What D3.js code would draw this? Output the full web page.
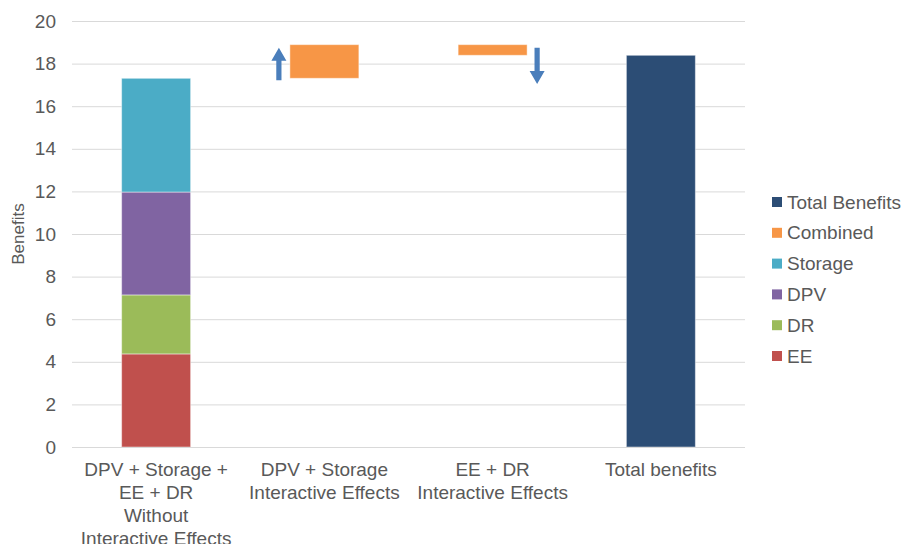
<!DOCTYPE html>
<html>
<head>
<meta charset="utf-8">
<script src="https://cdn.jsdelivr.net/npm/d3@7"></script>
<style>
  body { margin: 0; background: #fff; }
  svg { display: block; font-family: "Liberation Sans", Arial, sans-serif; }
</style>
</head>
<body>
<svg id="chart" width="920" height="544"></svg>
<script>
// Category labels (one array of lines per column)
const categories = ["base", "dpvStorage", "eeDr", "total"];
const categoryLabels = [
  ["DPV + Storage +", "EE + DR", "Without", "Interactive Effects"],
  ["DPV + Storage", "Interactive Effects"],
  ["EE + DR", "Interactive Effects"],
  ["Total benefits"]
];

// Stacked components of the first column
const stackKeys = ["EE", "DR", "DPV", "Storage"];
const stackValues = [4.37, 2.77, 4.83, 5.34];

// Interactive effects (waterfall steps)
const interactiveEffects = [1.58, -0.50];

// Axis ticks
const yTicks = [0, 2, 4, 6, 8, 10, 12, 14, 16, 18, 20];

// Legend entries, top to bottom
const legendKeys = ["Total Benefits", "Combined", "Storage", "DPV", "DR", "EE"];

const colors = {
  "Total Benefits": "#2c4d75",
  "Combined": "#f79646",
  "Storage": "#4bacc6",
  "DPV": "#8064a2",
  "DR": "#9bbb59",
  "EE": "#c0504d"
};
const arrowColor = "#4a7ebb";
const textColor = "#595959";
const fontSize = 19;

const svg = d3.select("#chart");
const plot = { left: 72, right: 745, top: 21, bottom: 447 };

const x = d3.scaleBand().domain(categories).range([plot.left, plot.right]).padding(0);
const y = d3.scaleLinear().domain([0, 20]).range([plot.bottom, plot.top]);
const barW = x.bandwidth() * 0.41;
const barX = c => x(c) + (x.bandwidth() - barW) / 2;

// Gridlines
svg.append("g").selectAll("line").data(yTicks).join("line")
  .attr("x1", plot.left).attr("x2", plot.right)
  .attr("y1", d => y(d) + 0.5).attr("y2", d => y(d) + 0.5)
  .attr("stroke", "#d9d9d9").attr("stroke-width", 1);

// Y axis tick labels
const yAxis = d3.axisLeft(y).tickValues(yTicks).tickSize(0).tickPadding(0);
const gy = svg.append("g").attr("transform", `translate(56,0)`).call(yAxis);
gy.select(".domain").remove();
gy.selectAll("text").attr("font-size", fontSize).attr("fill", textColor)
  .attr("font-family", "Liberation Sans, Arial, sans-serif");

// Y axis title
svg.append("text")
  .attr("transform", `translate(24,${(plot.top + plot.bottom) / 2}) rotate(-90)`)
  .attr("text-anchor", "middle")
  .attr("font-size", 17).attr("fill", textColor)
  .text("Benefits");

// Stacked first column
let cum = 0;
const stackData = stackKeys.map((k, i) => {
  const d = { key: k, y0: cum, y1: cum + stackValues[i] };
  cum += stackValues[i];
  return d;
});
const baseTotal = cum;

svg.append("g").selectAll("rect").data(stackData).join("rect")
  .attr("x", barX("base")).attr("width", barW)
  .attr("y", d => y(d.y1)).attr("height", d => y(d.y0) - y(d.y1))
  .attr("fill", d => colors[d.key])
  .attr("stroke", "rgba(255,255,255,0.45)").attr("stroke-width", 1);

// Waterfall steps
let running = baseTotal;
const steps = interactiveEffects.map((v, i) => {
  const d = { cat: categories[i + 1], from: running, to: running + v, v };
  running += v;
  return d;
});
const grandTotal = running;

svg.append("g").selectAll("rect").data(steps).join("rect")
  .attr("x", d => barX(d.cat)).attr("width", barW)
  .attr("y", d => y(Math.max(d.from, d.to)))
  .attr("height", d => Math.abs(y(d.from) - y(d.to)))
  .attr("fill", colors["Combined"])
  .attr("stroke", "rgba(255,255,255,0.45)").attr("stroke-width", 1);

// Direction arrows beside each step
const arrowG = svg.append("g");
steps.forEach(d => {
  const up = d.v > 0;
  const ax = up ? barX(d.cat) - 11 : barX(d.cat) + barW + 10;
  const hi = Math.max(d.from, d.to), lo = Math.min(d.from, d.to);
  let tipY, tailY;
  if (up) { tipY = y(hi) + 3; tailY = y(lo) + 2; }
  else { tipY = y(lo - 1.35); tailY = y(hi) + 3; }
  const dir = up ? 1 : -1;
  const headH = 13, headW = 7.5, shaft = 2.6;
  const headBase = tipY + dir * headH;
  const pts = [
    [ax, tipY],
    [ax + headW, headBase],
    [ax + shaft, headBase],
    [ax + shaft, tailY],
    [ax - shaft, tailY],
    [ax - shaft, headBase],
    [ax - headW, headBase]
  ];
  arrowG.append("path")
    .attr("d", "M" + pts.map(p => p.join(",")).join("L") + "Z")
    .attr("fill", arrowColor);
});

// Total column
svg.append("rect")
  .attr("x", barX("total")).attr("width", barW)
  .attr("y", y(grandTotal)).attr("height", y(0) - y(grandTotal))
  .attr("fill", colors["Total Benefits"])
  .attr("stroke", "rgba(255,255,255,0.45)").attr("stroke-width", 1);

// Baseline
svg.append("line")
  .attr("x1", plot.left).attr("x2", plot.right)
  .attr("y1", y(0) + 0.5).attr("y2", y(0) + 0.5)
  .attr("stroke", "#d9d9d9").attr("stroke-width", 1);

// X axis category labels
const xl = svg.append("g").selectAll("text").data(categories).join("text")
  .attr("x", c => x(c) + x.bandwidth() / 2)
  .attr("y", 476)
  .attr("text-anchor", "middle")
  .attr("font-size", fontSize).attr("fill", textColor);
xl.each(function(c, i) {
  d3.select(this).selectAll("tspan").data(categoryLabels[i]).join("tspan")
    .attr("x", x(c) + x.bandwidth() / 2)
    .attr("dy", (d, j) => j === 0 ? 0 : 23)
    .text(d => d);
});

// Legend
const lg = svg.append("g").selectAll("g").data(legendKeys).join("g")
  .attr("transform", (d, i) => `translate(772,${202 + i * 30.8})`);
lg.append("rect").attr("x", 0).attr("y", -5).attr("width", 10).attr("height", 10)
  .attr("fill", d => colors[d]);
lg.append("text").attr("x", 15).attr("y", 6.5)
  .attr("font-size", fontSize).attr("fill", textColor)
  .text(d => d);
</script>
</body>
</html>
